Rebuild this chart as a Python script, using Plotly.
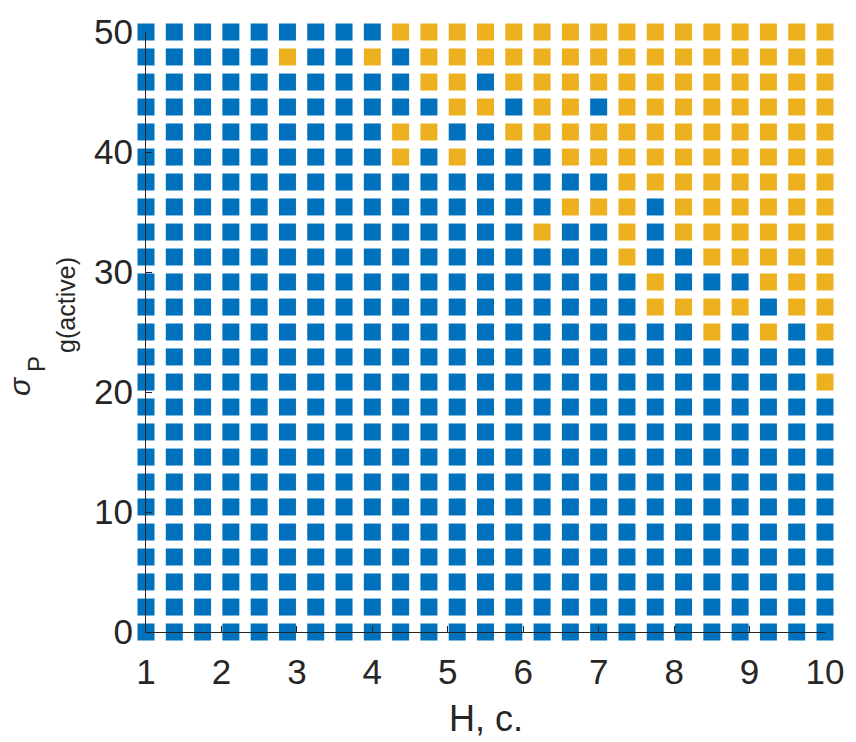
import plotly.graph_objects as go

# Grid values
H_values = [1, 1.375, 1.75, 2.125, 2.5, 2.875, 3.25, 3.625, 4, 4.375, 4.75, 5.125,
            5.5, 5.875, 6.25, 6.625, 7, 7.375, 7.75, 8.125, 8.5, 8.875, 9.25, 9.625, 10]
sigma_values = [50, 47.92, 45.83, 43.75, 41.67, 39.58, 37.5, 35.42, 33.33, 31.25,
                29.17, 27.08, 25, 22.92, 20.83, 18.75, 16.67, 14.58, 12.5, 10.42,
                8.33, 6.25, 4.17, 2.08, 0]

# Status per row (top row = sigma 50), one char per H value: B = blue, Y = yellow
status_rows = [
    "BBBBBBBBBYYYYYYYYYYYYYYYY",
    "BBBBBYBBYBYYYYYYYYYYYYYYY",
    "BBBBBBBBBBYYBYYYYYYYYYYYY",
    "BBBBBBBBBBBYYBYYBYYYYYYYY",
    "BBBBBBBBBYYBBYYYYYYYYYYYY",
    "BBBBBBBBBYBYBBBYYYYYYYYYY",
    "BBBBBBBBBBBBBBBBBYYYYYYYY",
    "BBBBBBBBBBBBBBBYYYBYYYYYY",
    "BBBBBBBBBBBBBBYBBYBYYYYYY",
    "BBBBBBBBBBBBBBBBBYBBYYYYY",
    "BBBBBBBBBBBBBBBBBBYBBBYYY",
    "BBBBBBBBBBBBBBBBBBYYYYBYY",
    "BBBBBBBBBBBBBBBBBBBBYBYBY",
    "BBBBBBBBBBBBBBBBBBBBBBBBB",
    "BBBBBBBBBBBBBBBBBBBBBBBBY",
    "BBBBBBBBBBBBBBBBBBBBBBBBB",
    "BBBBBBBBBBBBBBBBBBBBBBBBB",
    "BBBBBBBBBBBBBBBBBBBBBBBBB",
    "BBBBBBBBBBBBBBBBBBBBBBBBB",
    "BBBBBBBBBBBBBBBBBBBBBBBBB",
    "BBBBBBBBBBBBBBBBBBBBBBBBB",
    "BBBBBBBBBBBBBBBBBBBBBBBBB",
    "BBBBBBBBBBBBBBBBBBBBBBBBB",
    "BBBBBBBBBBBBBBBBBBBBBBBBB",
    "BBBBBBBBBBBBBBBBBBBBBBBBB",
]

x_ticks = [1, 2, 3, 4, 5, 6, 7, 8, 9, 10]
y_ticks = [0, 10, 20, 30, 40, 50]

BLUE = "#0072BD"
YELLOW = "#EDB120"
AXIS = "#262626"

bx, by, yx, yy = [], [], [], []
for s, row in zip(sigma_values, status_rows):
    for h, ch in zip(H_values, row):
        if ch == "B":
            bx.append(h); by.append(s)
        else:
            yx.append(h); yy.append(s)

fig = go.Figure()
for xs, ys, col in [(bx, by, BLUE), (yx, yy, YELLOW)]:
    fig.add_trace(go.Scatter(
        x=xs, y=ys, mode="markers", cliponaxis=False, showlegend=False,
        marker=dict(symbol="square", size=17, color=col, line=dict(width=0)),
    ))

tickfont = dict(family="Liberation Sans, Arial, sans-serif", size=35, color=AXIS)
fig.update_layout(
    width=856, height=742,
    margin=dict(l=146, r=26, t=20, b=110),
    plot_bgcolor="white", paper_bgcolor="white",
    xaxis=dict(range=[1, 10], tickvals=x_ticks, showgrid=False, zeroline=False,
               showline=True, linecolor=AXIS, linewidth=1,
               ticks="inside", ticklen=6, tickcolor=AXIS, tickfont=tickfont,
               ticklabelstandoff=9),
    yaxis=dict(range=[0, 50], tickvals=y_ticks, showgrid=False, zeroline=False,
               showline=True, linecolor=AXIS, linewidth=1,
               ticks="inside", ticklen=6, tickcolor=AXIS, tickfont=tickfont,
               ticklabelstandoff=5),
)

fig.add_annotation(text="H, c.", xref="paper", yref="paper", x=0.5, y=-0.1438,
                   xanchor="center", yanchor="middle", showarrow=False,
                   font=dict(family="Liberation Sans, Arial, sans-serif", size=36, color=AXIS))
fig.add_annotation(text="<i>σ</i>", xref="paper", yref="paper", x=-0.187, y=0.410,
                   xanchor="center", yanchor="middle", showarrow=False, textangle=-90,
                   font=dict(family="Liberation Sans, Arial, sans-serif", size=30, color=AXIS))
fig.add_annotation(text="P", xref="paper", yref="paper", x=-0.161, y=0.446,
                   xanchor="center", yanchor="middle", showarrow=False, textangle=-90,
                   font=dict(family="Liberation Sans, Arial, sans-serif", size=24, color=AXIS))
fig.add_annotation(text="g(active)", xref="paper", yref="paper", x=-0.118, y=0.545,
                   xanchor="center", yanchor="middle", showarrow=False, textangle=-90,
                   font=dict(family="Liberation Sans, Arial, sans-serif", size=25, color=AXIS))

fig.write_html("out.html")
